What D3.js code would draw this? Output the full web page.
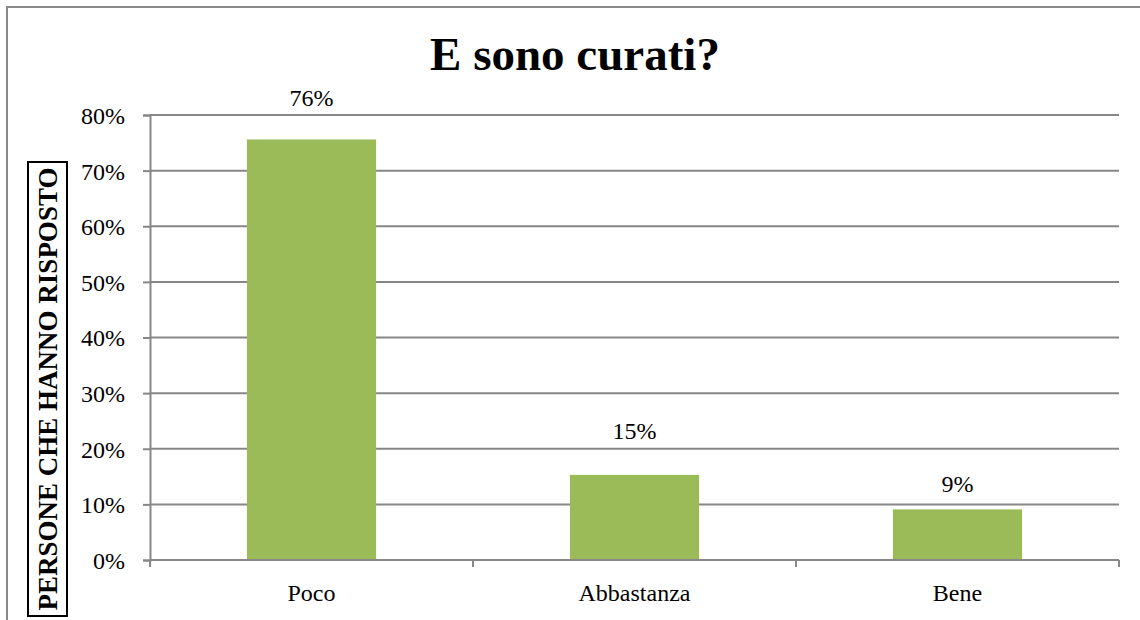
<!DOCTYPE html>
<html>
<head>
<meta charset="utf-8">
<script src="https://cdn.jsdelivr.net/npm/d3@7"></script>
<style>
  html, body { margin: 0; padding: 0; background: #fff; }
  svg { display: block; }
  text { font-family: "Liberation Serif", "Times New Roman", serif; fill: #000; }
</style>
</head>
<body>
<script>
const categories = ["Poco", "Abbastanza", "Bene"];
const values = [0.756, 0.153, 0.091];
const valueLabels = ["76%", "15%", "9%"];
const yTicks = [0, 0.1, 0.2, 0.3, 0.4, 0.5, 0.6, 0.7, 0.8];
const chartTitle = "E sono curati?";
const yAxisTitle = "PERSONE CHE HANNO RISPOSTO";

const W = 1140, H = 620;
const plot = { left: 150, right: 1119, top: 115, bottom: 560 };
const labelGap = [33, 36, 17];
const gridColor = "#878787";
const barColor = "#9bbb59";

const svg = d3.select("body").append("svg").attr("width", W).attr("height", H);

// outer chart border
svg.append("rect")
  .attr("x", 7).attr("y", 7).attr("width", W + 20).attr("height", H + 20)
  .attr("fill", "none").attr("stroke", "#8a8a8a").attr("stroke-width", 2);

const x = d3.scaleBand().domain(categories).range([plot.left, plot.right]).paddingInner(0.6).paddingOuter(0.3);
const xOuter = d3.scaleBand().domain(categories).range([plot.left, plot.right]);
const y = d3.scaleLinear().domain([0, 0.8]).range([plot.bottom, plot.top]);

// gridlines
svg.append("g").selectAll("line").data(yTicks.filter(t => t > 0)).join("line")
  .attr("x1", plot.left).attr("x2", plot.right)
  .attr("y1", d => y(d)).attr("y2", d => y(d))
  .attr("stroke", gridColor).attr("stroke-width", 2);

// y axis
const yAxis = d3.axisLeft(y).tickValues(yTicks).tickFormat(d3.format(".0%")).tickSize(7).tickPadding(18);
const gy = svg.append("g").attr("transform", `translate(${plot.left},0)`).call(yAxis)
  .attr("font-family", null).attr("font-size", null);
gy.select(".domain").attr("stroke", gridColor).attr("stroke-width", 2);
gy.selectAll(".tick line").attr("stroke", gridColor).attr("stroke-width", 2);
gy.selectAll(".tick text").style("font-family", "'Liberation Serif', serif").style("font-size", "24px").attr("fill", "#000").attr("dy", "0.35em");

// bars
svg.append("g").selectAll("rect").data(values).join("rect")
  .attr("x", (d, i) => x(categories[i]))
  .attr("width", x.bandwidth())
  .attr("y", d => y(d))
  .attr("height", d => y(0) - y(d))
  .attr("fill", barColor);

// x axis
const boundaries = categories.map(c => xOuter(c)).concat([plot.right]);
const gx = svg.append("g");
gx.append("line").attr("x1", plot.left).attr("x2", plot.right).attr("y1", y(0)).attr("y2", y(0))
  .attr("stroke", gridColor).attr("stroke-width", 2);
gx.selectAll("line.tk").data(boundaries).join("line").attr("class", "tk")
  .attr("x1", d => d).attr("x2", d => d).attr("y1", y(0)).attr("y2", y(0) + 7)
  .attr("stroke", gridColor).attr("stroke-width", 2);
gx.selectAll("text").data(categories).join("text")
  .attr("x", d => xOuter(d) + xOuter.bandwidth() / 2)
  .attr("y", 601)
  .attr("text-anchor", "middle")
  .style("font-size", "24px")
  .text(d => d);

// value labels
svg.append("g").selectAll("text").data(values).join("text")
  .attr("x", (d, i) => x(categories[i]) + x.bandwidth() / 2)
  .attr("y", (d, i) => y(d) - labelGap[i])
  .attr("text-anchor", "middle")
  .style("font-size", "24px")
  .text((d, i) => valueLabels[i]);

// title
svg.append("text").attr("x", 575).attr("y", 70).attr("text-anchor", "middle")
  .style("font-size", "47px").style("font-weight", "bold").text(chartTitle);

// y axis title with box
const yt = svg.append("g").attr("transform", "translate(47.5,389) rotate(-90)");
yt.append("rect").attr("x", -227).attr("y", -19.5).attr("width", 454).attr("height", 39)
  .attr("fill", "#fff").attr("stroke", "#000").attr("stroke-width", 2);
yt.append("text").attr("x", 0).attr("y", 0).attr("dy", "0.35em").attr("text-anchor", "middle")
  .style("font-size", "27px").style("font-weight", "bold").text(yAxisTitle);
</script>
</body>
</html>
